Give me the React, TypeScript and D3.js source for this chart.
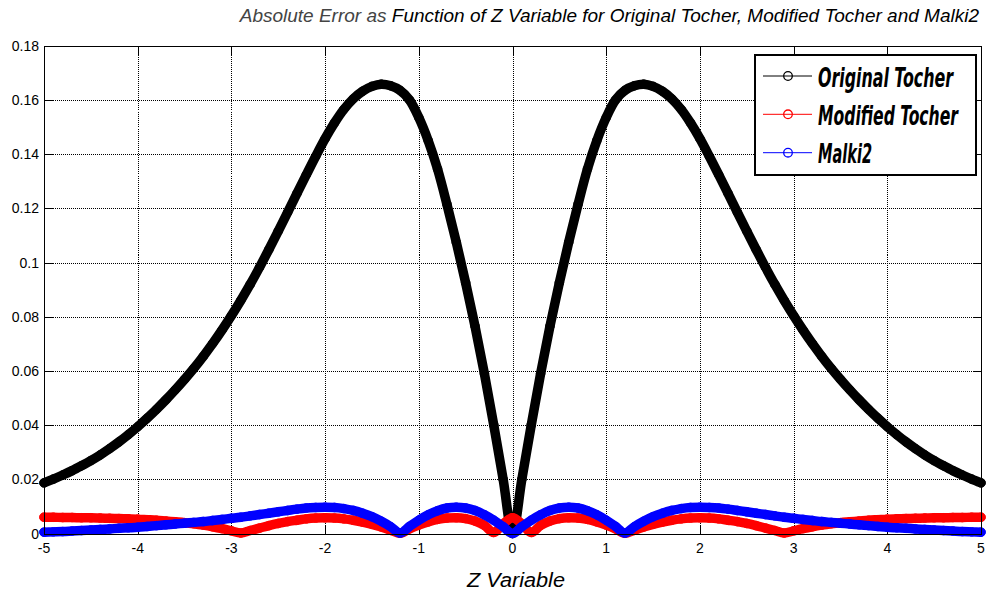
import React from "react";
import * as d3 from "d3";

const zValues = [
  -5, -4.9, -4.8, -4.7, -4.6, -4.5, -4.4, -4.3, -4.2, -4.1,
  -4, -3.9, -3.8, -3.7, -3.6, -3.5, -3.4, -3.3, -3.2, -3.1,
  -3, -2.9, -2.8, -2.7, -2.6, -2.5, -2.4, -2.3, -2.2, -2.1,
  -2, -1.9, -1.8, -1.7, -1.6, -1.5, -1.4, -1.3, -1.2, -1.1,
  -1, -0.9, -0.8, -0.7, -0.6, -0.5, -0.4, -0.3, -0.2, -0.1,
  0,
  0.1, 0.2, 0.3, 0.4, 0.5, 0.6, 0.7, 0.8, 0.9, 1,
  1.1, 1.2, 1.3, 1.4, 1.5, 1.6, 1.7, 1.8, 1.9, 2,
  2.1, 2.2, 2.3, 2.4, 2.5, 2.6, 2.7, 2.8, 2.9, 3,
  3.1, 3.2, 3.3, 3.4, 3.5, 3.6, 3.7, 3.8, 3.9, 4,
  4.1, 4.2, 4.3, 4.4, 4.5, 4.6, 4.7, 4.8, 4.9, 5,
];

const originalTocher = [
  0.0187, 0.0201, 0.0216, 0.0232, 0.025, 0.0269, 0.029, 0.0313, 0.0338, 0.0365,
  0.0394, 0.0425, 0.0458, 0.0493, 0.053, 0.0569, 0.061, 0.0654, 0.0701, 0.0751,
  0.0804, 0.086, 0.0919, 0.0982, 0.1048, 0.1116, 0.1185, 0.1255, 0.1324, 0.1392,
  0.1457, 0.1515, 0.1565, 0.1604, 0.1632, 0.165, 0.1658, 0.1652, 0.1635, 0.16,
  0.1535, 0.145, 0.1345, 0.1215, 0.1075, 0.0925, 0.0765, 0.059, 0.04, 0.02,
  0,
  0.02, 0.04, 0.059, 0.0765, 0.0925, 0.1075, 0.1215, 0.1345, 0.145, 0.1535,
  0.16, 0.1635, 0.1652, 0.1658, 0.165, 0.1632, 0.1604, 0.1565, 0.1515, 0.1457,
  0.1392, 0.1324, 0.1255, 0.1185, 0.1116, 0.1048, 0.0982, 0.0919, 0.086, 0.0804,
  0.0751, 0.0701, 0.0654, 0.061, 0.0569, 0.053, 0.0493, 0.0458, 0.0425, 0.0394,
  0.0365, 0.0338, 0.0313, 0.029, 0.0269, 0.025, 0.0232, 0.0216, 0.0201, 0.0187,
];

const modifiedTocher = [
  0.006, 0.006, 0.0059, 0.0059, 0.0058, 0.0058, 0.0057, 0.0056, 0.0055, 0.0054,
  0.0053, 0.0051, 0.0049, 0.0046, 0.0043, 0.004, 0.0036, 0.0031, 0.0025, 0.0018,
  0.001, 0.0002, 0.0011, 0.002, 0.0029, 0.0037, 0.0044, 0.0049, 0.0054, 0.0057,
  0.0058, 0.0057, 0.0054, 0.0049, 0.0042, 0.0034, 0.0024, 0.0012, 0.0001, 0.0017,
  0.0031, 0.0043, 0.0052, 0.0057, 0.0058, 0.0055, 0.0046, 0.003, 0.0004, 0.0035,
  0.0058,
  0.0035, 0.0004, 0.003, 0.0046, 0.0055, 0.0058, 0.0057, 0.0052, 0.0043, 0.0031,
  0.0017, 0.0001, 0.0012, 0.0024, 0.0034, 0.0042, 0.0049, 0.0054, 0.0057, 0.0058,
  0.0057, 0.0054, 0.0049, 0.0044, 0.0037, 0.0029, 0.002, 0.0011, 0.0002, 0.001,
  0.0018, 0.0025, 0.0031, 0.0036, 0.004, 0.0043, 0.0046, 0.0049, 0.0051, 0.0053,
  0.0054, 0.0055, 0.0056, 0.0057, 0.0058, 0.0058, 0.0059, 0.0059, 0.006, 0.006,
];

const malki2 = [
  0.0005, 0.0006, 0.0007, 0.0009, 0.0011, 0.0013, 0.0015, 0.0017, 0.0019, 0.0021,
  0.0023, 0.0026, 0.0029, 0.0032, 0.0035, 0.0038, 0.0041, 0.0044, 0.0048, 0.0052,
  0.0056, 0.006, 0.0065, 0.007, 0.0075, 0.008, 0.0085, 0.009, 0.0094, 0.0096,
  0.0097, 0.0096, 0.0092, 0.0085, 0.0075, 0.0062, 0.0045, 0.0025, 0.0002, 0.0026,
  0.0049, 0.0069, 0.0084, 0.0094, 0.0097, 0.0094, 0.0085, 0.0069, 0.0049, 0.0025,
  0,
  0.0025, 0.0049, 0.0069, 0.0085, 0.0094, 0.0097, 0.0094, 0.0084, 0.0069, 0.0049,
  0.0026, 0.0002, 0.0025, 0.0045, 0.0062, 0.0075, 0.0085, 0.0092, 0.0096, 0.0097,
  0.0096, 0.0094, 0.009, 0.0085, 0.008, 0.0075, 0.007, 0.0065, 0.006, 0.0056,
  0.0052, 0.0048, 0.0044, 0.0041, 0.0038, 0.0035, 0.0032, 0.0029, 0.0026, 0.0023,
  0.0021, 0.0019, 0.0017, 0.0015, 0.0013, 0.0011, 0.0009, 0.0007, 0.0006, 0.0005,
];

const seriesNames = ["Original Tocher", "Modified Tocher", "Malki2"];
const seriesColors = ["#000000", "#ff0000", "#0000ff"];
const xTicks = [-5, -4, -3, -2, -1, 0, 1, 2, 3, 4, 5];
const xTickLabels = ["-5", "-4", "-3", "-2", "-1", "0", "1", "2", "3", "4", "5"];
const yTicks = [0, 0.02, 0.04, 0.06, 0.08, 0.1, 0.12, 0.14, 0.16, 0.18];
const yTickLabels = ["0", "0.02", "0.04", "0.06", "0.08", "0.1", "0.12", "0.14", "0.16", "0.18"];
const titleLight = "Absolute Error as ";
const titleMain = "Function of Z Variable for Original Tocher, Modified Tocher and Malki2";
const xLabel = "Z Variable";

export default function App() {
  const W = 986;
  const H = 599;
  const left = 44, right = 981, top = 45.7, bottom = 533.5;
  const x = d3.scaleLinear().domain([-5, 5]).range([left, right]);
  const y = d3.scaleLinear().domain([0, 0.18]).range([bottom, top]);
  const px = (v: number) => Math.round(v) + 0.5;
  const series = [originalTocher, modifiedTocher, malki2];
  const makeLine = (curve: any) =>
    d3
      .line<number>()
      .x((_, i) => x(zValues[i]))
      .y((d) => y(d))
      .curve(curve);
  const curves = [d3.curveCatmullRom.alpha(0.5), d3.curveMonotoneX, d3.curveMonotoneX];
  const font = "'Liberation Sans', Arial, Helvetica, sans-serif";
  const tickLen = 9;
  const legendRows = [76, 114.3, 152.7];
  const legendWidths = [135, 140, 54];
  const legendScale = 0.62;

  const L = px(left), R = px(right), T = px(top), B = px(bottom);

  return (
    <svg
      width={W}
      height={H}
      viewBox={`0 0 ${W} ${H}`}
      style={{ position: "absolute", left: 0, top: 0, display: "block", background: "#fff" }}
    >
      <rect x={0} y={0} width={W} height={H} fill="#fff" />
      {/* grid */}
      <g stroke="#000" strokeWidth={1} strokeDasharray="1 1" shapeRendering="crispEdges">
        {xTicks.map((t) => (
          <line key={"gx" + t} x1={px(x(t))} x2={px(x(t))} y1={T} y2={B} />
        ))}
        {yTicks.map((t) => (
          <line key={"gy" + t} x1={L} x2={R} y1={px(y(t))} y2={px(y(t))} />
        ))}
      </g>
      {/* ticks */}
      <g stroke="#000" strokeWidth={1} shapeRendering="crispEdges">
        {xTicks.map((t) => (
          <g key={"tx" + t}>
            <line x1={px(x(t))} x2={px(x(t))} y1={B} y2={B - tickLen} />
            <line x1={px(x(t))} x2={px(x(t))} y1={T} y2={T + tickLen} />
          </g>
        ))}
        {yTicks.map((t) => (
          <g key={"ty" + t}>
            <line x1={L} x2={L + tickLen} y1={px(y(t))} y2={px(y(t))} />
            <line x1={R} x2={R - tickLen} y1={px(y(t))} y2={px(y(t))} />
          </g>
        ))}
      </g>
      {/* series */}
      {series.map((s, si) => (
        <g key={"s" + si}>
          <path
            d={makeLine(curves[si])(s) || ""}
            fill="none"
            stroke={seriesColors[si]}
            strokeWidth={9.5}
            strokeLinejoin="round"
            strokeLinecap="round"
          />
          {s.map((v, i) => (
            <circle
              key={i}
              cx={x(zValues[i])}
              cy={y(v)}
              r={4.3}
              fill="none"
              stroke={seriesColors[si]}
              strokeWidth={1}
            />
          ))}
        </g>
      ))}
      {/* axes box */}
      <rect x={L} y={T} width={R - L} height={B - T} fill="none" stroke="#000" strokeWidth={1} shapeRendering="crispEdges" />
      {/* tick labels */}
      <g fontFamily={font} fontSize={14} fill="#000">
        {xTicks.map((t, i) => (
          <text key={"lx" + t} x={x(t)} y={553} textAnchor="middle">
            {xTickLabels[i]}
          </text>
        ))}
        {yTicks.map((t, i) => (
          <text key={"ly" + t} x={39} y={y(t) + 5} textAnchor="end">
            {yTickLabels[i]}
          </text>
        ))}
      </g>
      {/* title */}
      <text x={979} y={22} textAnchor="end" fontFamily={font} fontStyle="italic" fontSize={19}>
        <tspan fill="#444">{titleLight}</tspan>
        <tspan fill="#000">{titleMain}</tspan>
      </text>
      {/* x label */}
      <text
        x={(467 + 565) / 2}
        y={587}
        textAnchor="middle"
        fontFamily={font}
        fontStyle="italic"
        fontSize={20}
        textLength={98}
        lengthAdjust="spacingAndGlyphs"
      >
        {xLabel}
      </text>
      {/* legend */}
      <rect x={755} y={55} width={221} height={120} fill="#fff" stroke="#000" strokeWidth={2} />
      {seriesNames.map((name, i) => (
        <g key={"lg" + i}>
          <line x1={763} x2={812} y1={legendRows[i]} y2={legendRows[i]} stroke={seriesColors[i]} strokeWidth={1} />
          <circle cx={788} cy={legendRows[i]} r={4.3} fill="none" stroke={seriesColors[i]} strokeWidth={1.3} />
          <g transform={`translate(818, ${legendRows[i] + 10.5}) scale(${legendScale}, 1)`}>
            <text
              x={0}
              y={0}
              fontFamily="'DejaVu Sans Condensed', 'DejaVu Sans', sans-serif"
              fontWeight="bold"
              fontStyle="italic"
              fontSize={26}
              textLength={legendWidths[i] / legendScale}
              lengthAdjust="spacingAndGlyphs"
              fill="#000"
            >
              {name}
            </text>
          </g>
        </g>
      ))}
    </svg>
  );
}
